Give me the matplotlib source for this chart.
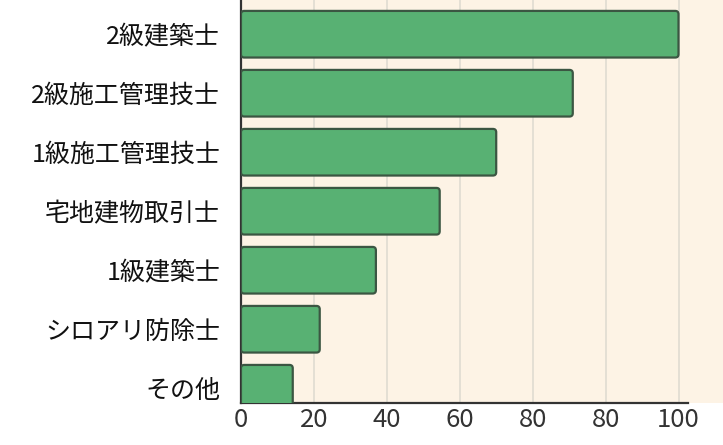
import matplotlib.pyplot as plt
from matplotlib.patches import FancyBboxPatch

plt.rcParams['font.family'] = ['Noto Sans CJK JP', 'DejaVu Sans']

# 資格名と値(軸の単位)
categories = ['2級建築士', '2級施工管理技士', '1級施工管理技士', '宅地建物取引士',
              '1級建築士', 'シロアリ防除士', 'その他']
values = [120, 91, 70, 54.5, 37, 21.6, 14.2]
tick_pos = [0, 20, 40, 60, 80, 100, 120]
tick_labels = ['0', '20', '40', '60', '80', '80', '100']


def draw_chart():
    fig = plt.figure(figsize=(7.23, 4.45), dpi=100)
    ax = fig.add_axes([0.3333, 0.0944, 0.6667, 0.9056])
    ax.set_facecolor('#fdf3e5')

    ys = list(range(len(categories)))
    bars = ax.barh(ys, values, height=0.79, color='#58b173')

    # 角丸の棒に置き換え
    for b in bars:
        x0, y0 = b.get_x(), b.get_y()
        w, h = b.get_width(), b.get_height()
        b.remove()
        p = FancyBboxPatch((x0, y0), w, h,
                           boxstyle='round,pad=0,rounding_size=0.9',
                           mutation_aspect=0.0615,
                           facecolor='#58b173', edgecolor='#3b5642',
                           linewidth=1.6, zorder=3)
        ax.add_patch(p)

    ax.set_xlim(0, 132.2)
    ax.set_ylim(6.25, -0.58)

    ax.set_xticks(tick_pos)
    ax.set_xticklabels(tick_labels, fontsize=18.5, color='#333333')
    ax.set_yticks(ys)
    ax.set_yticklabels(categories, fontsize=18, color='#111111')
    ax.tick_params(axis='both', length=0)
    ax.tick_params(axis='x', pad=3)
    ax.tick_params(axis='y', pad=15)

    ax.grid(axis='x', color='#e0dbd1', linewidth=1.2, zorder=0)
    ax.set_axisbelow(True)

    for s in ['top', 'right']:
        ax.spines[s].set_visible(False)
    ax.spines['left'].set_color('#333333')
    ax.spines['left'].set_linewidth(1.6)
    ax.spines['bottom'].set_color('#333333')
    ax.spines['bottom'].set_linewidth(1.6)
    ax.spines['bottom'].set_bounds(0, 122.5)

    fig.savefig('out.png', dpi=100)


if __name__ == '__main__':
    draw_chart()
